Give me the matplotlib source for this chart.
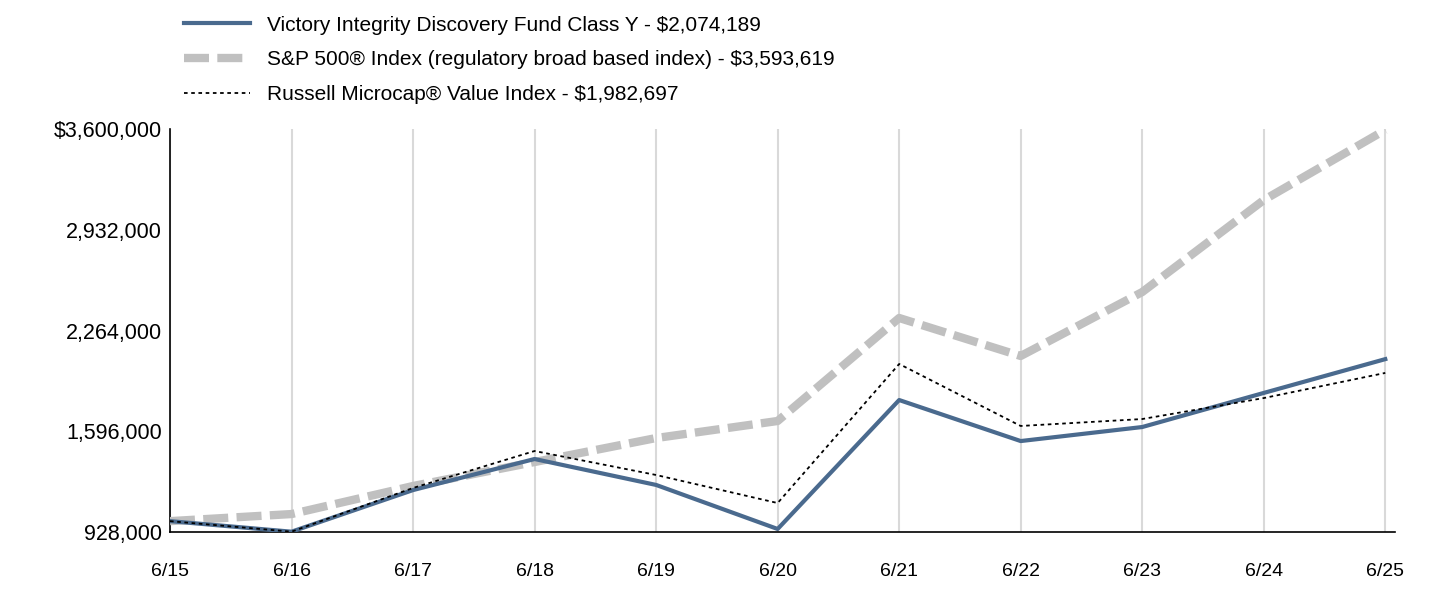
import matplotlib
matplotlib.use("Agg")
import matplotlib.pyplot as plt

dates = ["6/15","6/16","6/17","6/18","6/19","6/20","6/21","6/22","6/23","6/24","6/25"]
fund = [1000000, 930000, 1206000, 1412000, 1240000, 948000, 1803000, 1531000, 1624000, 1850000, 2074189]
sp500 = [1000000, 1047000, 1233000, 1392000, 1551000, 1664000, 2347000, 2095000, 2519000, 3129000, 3593619]
russell = [1000000, 930000, 1220000, 1465000, 1306000, 1120000, 2042000, 1631000, 1677000, 1816000, 1982697]
yticks = [928000, 1596000, 2264000, 2932000, 3600000]
labels = ["Victory Integrity Discovery Fund Class Y - $2,074,189",
          "S&P 500® Index (regulatory broad based index) - $3,593,619",
          "Russell Microcap® Value Index - $1,982,697"]

plt.rcParams["font.family"] = "Liberation Sans"
fig = plt.figure(figsize=(14.36, 5.98), dpi=100)
ax = fig.add_axes([170/1436, 1-532/598, (1395-170)/1436, (532-129)/598])
x = list(range(len(dates)))
l1, = ax.plot(x, fund, color="#4a6a8e", lw=3, zorder=4)
l2, = ax.plot(x, sp500, color="#c0c0c0", lw=6, ls=(0, (3, 1)), zorder=3)
l3, = ax.plot(x, russell, color="black", lw=1.3, ls=(0, (2, 2)), zorder=5)
ax.set_xlim(0, 10.08)
ax.set_ylim(928000, 3600000)
ax.set_xticks(x)
ax.set_xticklabels(dates, fontsize=14)
ax.set_yticks(yticks)
ax.set_yticklabels(["928,000", "1,596,000", "2,264,000", "2,932,000", "$3,600,000"], fontsize=15.5)
ax.xaxis.grid(True, color="#d9d9d9", lw=1.5)
ax.set_axisbelow(True)
ax.tick_params(axis="x", length=0, pad=22)
ax.tick_params(axis="y", length=0, pad=6)
for s in ["top", "right"]:
    ax.spines[s].set_visible(False)
ax.spines["left"].set_linewidth(1.2)
ax.spines["bottom"].set_linewidth(1.2)
fig.legend([l1, l2, l3], labels, loc="upper left", bbox_to_anchor=(165/1436, 1.005),
           frameon=False, fontsize=15, handlelength=3.2, labelspacing=0.75)
fig.savefig("out.png", dpi=100)
